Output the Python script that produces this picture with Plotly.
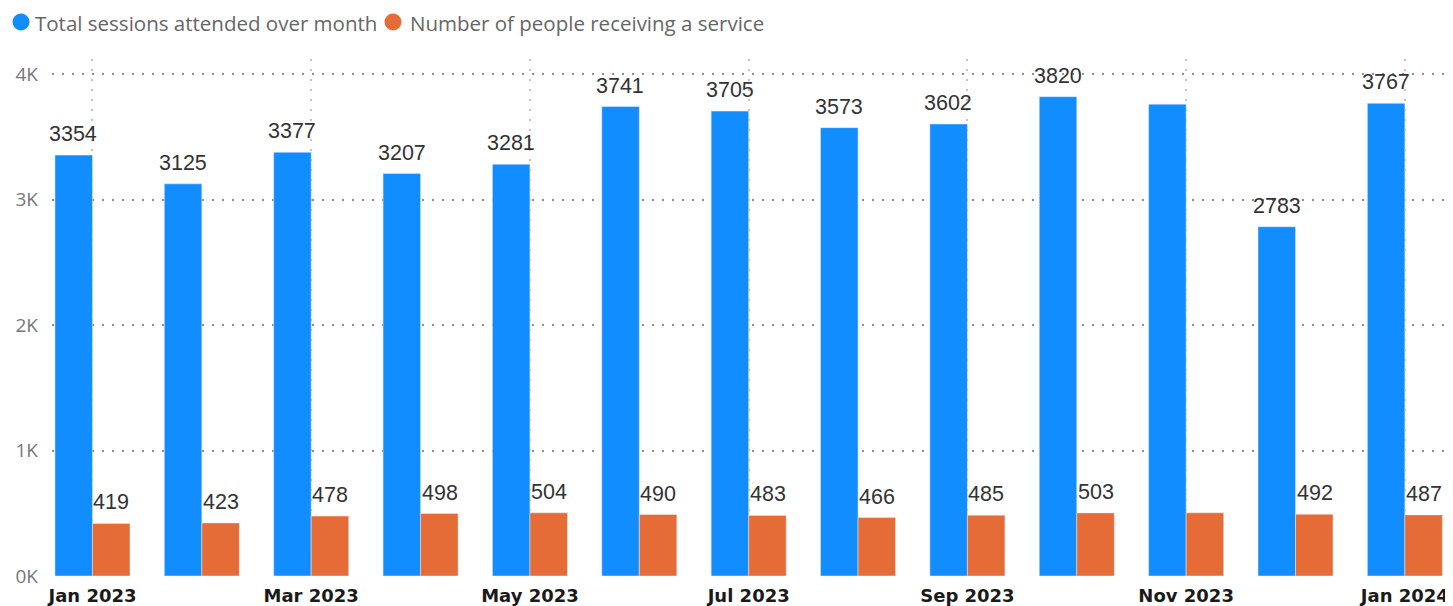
import plotly.graph_objects as go

months = ["Jan 2023", "Feb 2023", "Mar 2023", "Apr 2023", "May 2023", "Jun 2023",
          "Jul 2023", "Aug 2023", "Sep 2023", "Oct 2023", "Nov 2023", "Dec 2023", "Jan 2024"]
sessions = [3354, 3125, 3377, 3207, 3281, 3741, 3705, 3573, 3602, 3820, 3760, 2783, 3767]
people = [419, 423, 478, 498, 504, 490, 483, 466, 485, 503, 504, 492, 487]
# Power BI dropped the data labels for this month
no_label_months = ["Nov 2023"]

series_names = ["Total sessions attended over month", "Number of people receiving a service"]
tick_months = months[::2]
y_ticks = [0, 1000, 2000, 3000, 4000]
y_tick_text = ["0K", "1K", "2K", "3K", "4K"]

BLUE = "#118DFF"
ORANGE = "#E66C37"

# page has an 8px body margin, so the figure is sized to fit the window
W, H = 1445, 598
ML, MT, MB = 44, 51, 30
PLOT_W = W - ML
PLOT_H = H - MT - MB

fig = go.Figure()
fig.add_trace(go.Bar(x=months, y=sessions, name=series_names[0], marker_color=BLUE))
fig.add_trace(go.Bar(x=months, y=people, name=series_names[1], marker_color=ORANGE))

# data labels
for vals, shift in [(sessions, -19), (people, 19)]:
    for m, v in zip(months, vals):
        if m in no_label_months:
            continue
        fig.add_annotation(x=m, y=v, text=str(v), showarrow=False, xshift=shift,
                           yanchor="bottom", yshift=7,
                           font=dict(family="Liberation Sans, Arial", size=21.5, color="#333333"))


def px_x(p):
    return (p - ML) / PLOT_W


def px_y(p):
    return 1 + (MT - p) / PLOT_H


# Power BI style legend: round dots + grey text
legend_items = [(series_names[0], BLUE, 13, 25), (series_names[1], ORANGE, 385, 400)]
for name, col, cx, tx in legend_items:
    fig.add_shape(type="circle", xref="paper", yref="paper",
                  xsizemode="pixel", ysizemode="pixel",
                  xanchor=px_x(cx), yanchor=px_y(14),
                  x0=-8.5, x1=8.5, y0=-8.5, y1=8.5,
                  fillcolor=col, line_width=0)
    fig.add_annotation(xref="paper", yref="paper", x=px_x(tx), y=px_y(15),
                       xanchor="left", yanchor="middle", showarrow=False, text=name,
                       font=dict(family="Open Sans", size=20.5, color="#666666"))

fig.update_layout(
    width=W, height=H,
    margin=dict(l=ML, r=0, t=MT, b=MB, autoexpand=False),
    paper_bgcolor="white", plot_bgcolor="white",
    barmode="group", bargap=0.314, bargroupgap=0,
    showlegend=False,
    xaxis=dict(type="category", range=[-0.37, 12.44], automargin=False,
               tickmode="array", tickvals=tick_months, ticktext=tick_months,
               showgrid=True, gridcolor="#c4c4c4", griddash="2px,8px", gridwidth=1.5,
               tickfont=dict(family="DejaVu Sans", size=18, color="#1a1a1a", weight="bold"),
               ticks="", showline=False, ticklabelstandoff=7),
    yaxis=dict(range=[0, 4120], tickmode="array", tickvals=y_ticks, ticktext=y_tick_text,
               automargin=False,
               showgrid=True, gridcolor="#909090", griddash="2px,8px", gridwidth=2,
               zeroline=False, showline=False, ticks="", ticklabelstandoff=13,
               tickfont=dict(family="Open Sans", size=19, color="#777777")),
)

fig.write_html("out.html")
